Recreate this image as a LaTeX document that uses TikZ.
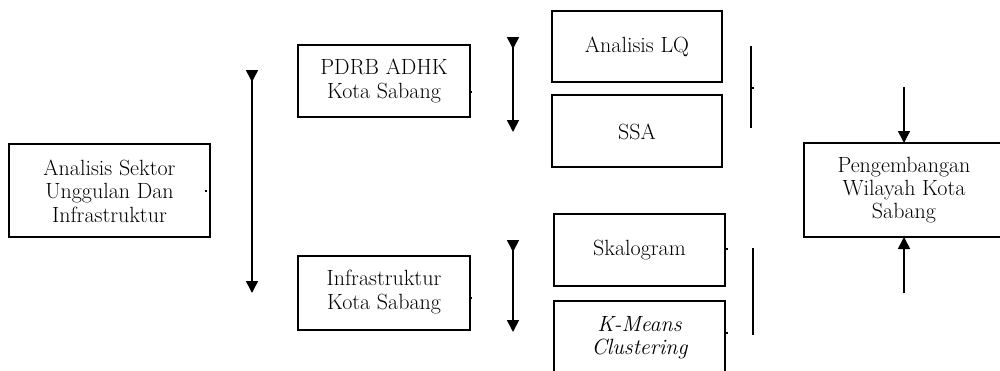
\documentclass[tikz,border=0pt]{standalone}
\usetikzlibrary{arrows.meta}
\begin{document}
\begin{tikzpicture}[x=0.75pt,y=-0.75pt,
  box/.style={draw,line width=1.4pt,inner sep=0pt},
  lbl/.style={align=center,font=\fontsize{16.5}{17.5}\selectfont,inner sep=0pt},
  flow/.style={line width=1.2pt,-{Triangle[width=9pt,length=9pt]}},
  dflow/.style={line width=1.2pt,{Triangle[width=9pt,length=9pt,reversed]}-{Triangle[width=9pt,length=9pt]}},
  bar/.style={line width=1.2pt},
  tick/.style={line width=0.8pt}]
\useasboundingbox (0,0) rectangle (1000,371);
% boxes
\draw[box] (9,144) rectangle (210,237);
\node[lbl] (ana) at (109.5,191) {Analisis Sektor\\Unggulan Dan\\Infrastruktur};
\draw[box] (298,45) rectangle (470,117);
\node[lbl] (pdrb) at (384,81) {PDRB ADHK\\Kota Sabang};
\draw[box] (298,256) rectangle (470,330);
\node[lbl] (infra) at (384,292) {Infrastruktur\\Kota Sabang};
\draw[box] (552,11) rectangle (722,82);
\node[lbl] (lq) at (637,47) {Analisis LQ};
\draw[box] (552,95) rectangle (722,167);
\node[lbl] (ssa) at (637,132) {SSA};
\draw[box] (554,214) rectangle (725,286);
\node[lbl] (skal) at (639.5,250) {Skalogram};
\draw[box] (554,301) rectangle (725,376);
\node[lbl] (km) at (639.5,338) {\itshape K-Means\\\itshape Clustering};
\draw[box] (804,143) rectangle (1006,237);
\node[lbl] (peng) at (904,190) {Pengembangan\\Wilayah Kota\\Sabang};
% connectors
\coordinate (a1s) at (252,70); \coordinate (a1e) at (252,293);
\draw[dflow] (a1s) -- (a1e);
\coordinate (a2s) at (513,37); \coordinate (a2e) at (513,132);
\draw[dflow] (a2s) -- (a2e);
\coordinate (a3s) at (513,240); \coordinate (a3e) at (513,332);
\draw[dflow] (a3s) -- (a3e);
\coordinate (b1s) at (751,46); \coordinate (b1e) at (751,128);
\draw[bar] (b1s) -- (b1e);
\coordinate (b2s) at (753,248); \coordinate (b2e) at (753,335);
\draw[bar] (b2s) -- (b2e);
\coordinate (a4s) at (904,87); \coordinate (a4e) at (904,143);
\draw[flow] (a4s) -- (a4e);
\coordinate (a5s) at (904,293); \coordinate (a5e) at (904,237);
\draw[flow] (a5s) -- (a5e);
% small ticks
\draw[tick] (205,191) -- (207,191);
\draw[tick] (470,92) -- (472,92);
\draw[tick] (470,298) -- (472,298);
\draw[tick] (751,88) -- (754,88);
\draw[tick] (725,249) -- (728,249);
\draw[tick] (725,333) -- (728,333);
\end{tikzpicture}
\end{document}
